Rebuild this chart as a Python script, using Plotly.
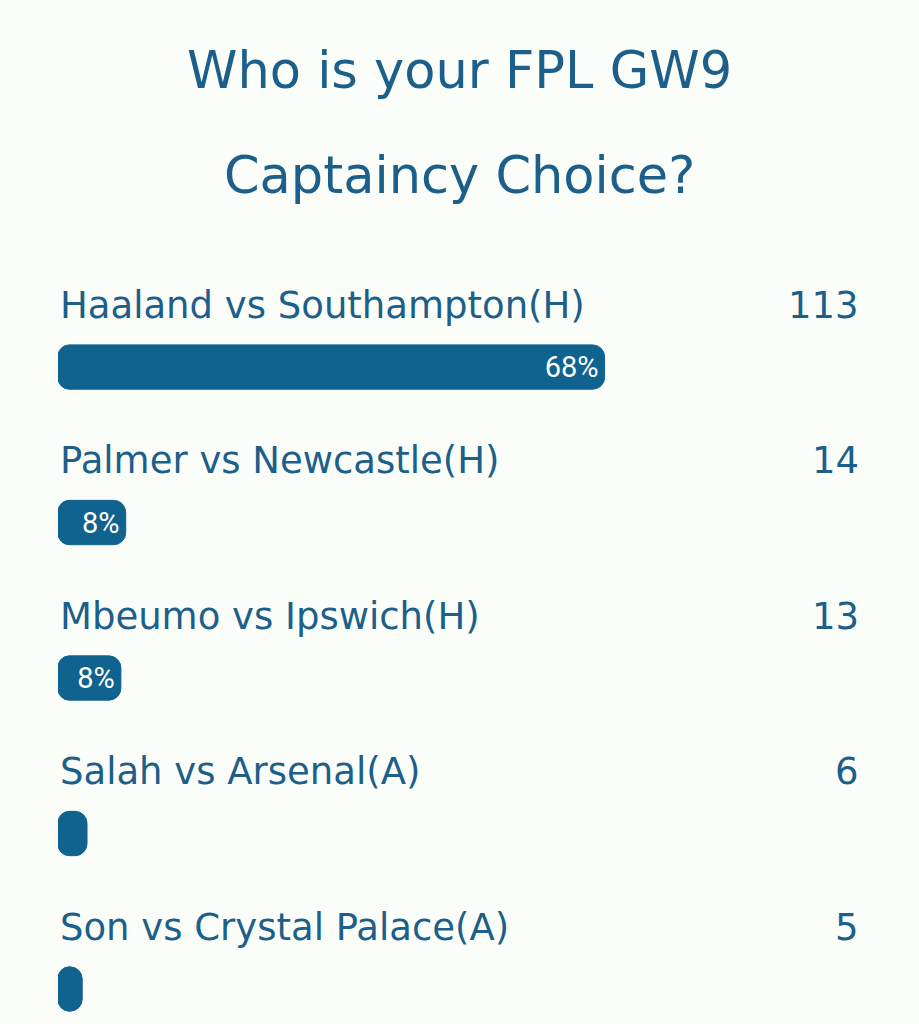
import plotly.graph_objects as go

# poll options, top to bottom
options = [
    "Haaland vs Southampton(H)",
    "Palmer vs Newcastle(H)",
    "Mbeumo vs Ipswich(H)",
    "Salah vs Arsenal(A)",
    "Son vs Crystal Palace(A)",
]
votes = [113, 14, 13, 6, 5]
total_votes = 166  # includes options below the cut

title_lines = ["Who is your FPL GW9", "Captaincy Choice?"]

BLUE = "#10628f"
TEXT = "#1b5f8a"
BG = "#fbfdf9"
FONT = "DejaVu Sans"
CAP = 1.4  # left rounded cap, in % units

pct = [v / total_votes * 100 for v in votes]
# too-short bars get no label, like the poll app
pct_text = [f"{round(p)}%" if p >= 5 else "" for p in pct]

bar_marker = dict(color=BLUE, cornerradius=12, line=dict(color=BLUE, width=1))

fig = go.Figure()
# small negative bar just to round the left end of each bar
fig.add_trace(go.Bar(
    x=[-CAP] * len(options),
    y=options,
    orientation="h",
    marker=bar_marker,
    hoverinfo="skip",
))
fig.add_trace(go.Bar(
    x=[p - CAP for p in pct],
    y=options,
    orientation="h",
    marker=bar_marker,
    text=pct_text,
    textposition="inside",
    insidetextanchor="end",
    textangle=0,
    textfont=dict(family="Roboto", size=29, color="white"),
    hoverinfo="skip",
))

for name, v in zip(options, votes):
    fig.add_annotation(x=0, y=name, xref="paper", yref="y", text=name,
                       xanchor="left", yanchor="middle", yshift=62,
                       showarrow=False, font=dict(family=FONT, size=37, color=TEXT))
    fig.add_annotation(x=1, y=name, xref="paper", yref="y", text=str(v),
                       xanchor="right", yanchor="middle", yshift=62,
                       showarrow=False, font=dict(family=FONT, size=37, color=TEXT))

# title lines sit above the plot area
for line, py in zip(title_lines, [70, 175]):
    fig.add_annotation(x=0.5, y=(1024 - py) / 784, xref="paper", yref="paper",
                       text=line, xanchor="center", yanchor="middle",
                       showarrow=False, font=dict(family=FONT, size=51, color=TEXT))

fig.update_layout(
    width=919,
    height=1024,
    margin=dict(l=58, r=58, t=240, b=0),
    paper_bgcolor=BG,
    plot_bgcolor=BG,
    showlegend=False,
    barmode="relative",
    bargap=0.715,
    xaxis=dict(range=[-CAP, 100 - CAP], visible=False, fixedrange=True),
    yaxis=dict(range=[4.225, -0.817], visible=False, fixedrange=True),
)

fig.write_html("out.html", config=dict(displayModeBar=False),
               post_script="document.body.style.margin='0';")
